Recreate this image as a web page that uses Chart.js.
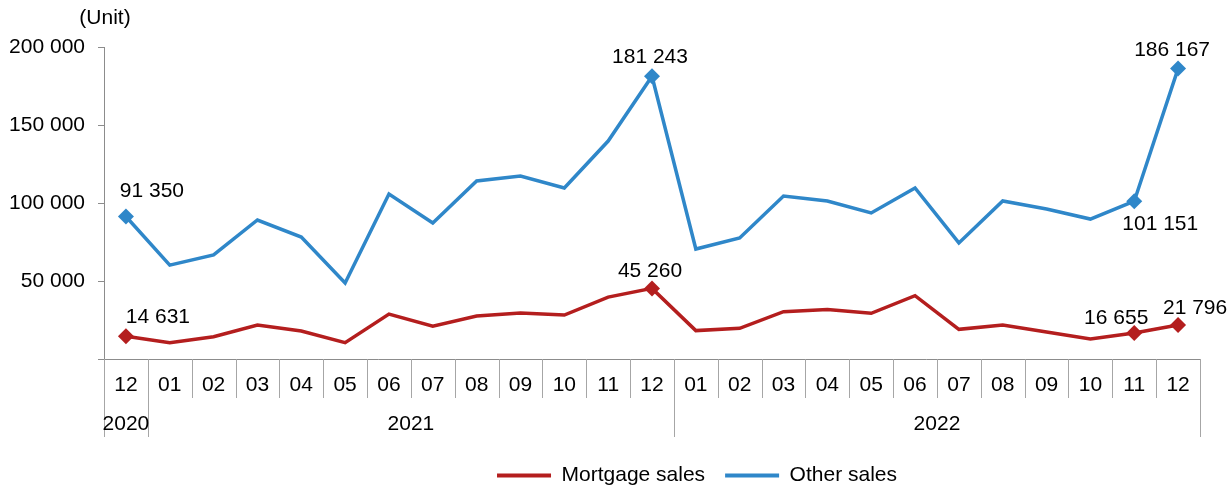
<!DOCTYPE html>
<html>
<head>
<meta charset="utf-8">
<script src="https://cdn.jsdelivr.net/npm/chart.js@4"></script>
<style>
  html, body { margin: 0; padding: 0; background: #fff; }
  .chart-container { position: relative; width: 1231px; height: 486px; }
</style>
</head>
<body>
<div class="chart-container"><canvas id="my-chart"></canvas></div>
<script>
const months = ['12', '01', '02', '03', '04', '05', '06', '07', '08', '09', '10', '11', '12',
  '01', '02', '03', '04', '05', '06', '07', '08', '09', '10', '11', '12'];
// year groups: label, first index, last index
const years = [['2020', 0, 0], ['2021', 1, 12], ['2022', 13, 24]];

const mortgage = [14631, 10500, 14300, 21800, 17900, 10500, 28800, 21100, 27600, 29500, 28200, 39700, 45260,
  18200, 19700, 30300, 31800, 29300, 40600, 19000, 21800, 17300, 12800, 16655, 21796];
const other = [91350, 60200, 66700, 89100, 78200, 48700, 105800, 87200, 114100, 117300, 109600, 139700, 181243,
  70500, 77600, 104500, 101300, 93600, 109600, 74400, 101300, 96200, 89700, 101151, 186167];

const markedPoints = [0, 12, 23, 24];
// label offsets [index, dx, dy] per series
const mortgageLabels = [[0, 32, -19], [12, -2, -17], [23, -18, -15], [24, 17, -17]];
const otherLabels = [[0, 26, -25], [12, -2, -19], [23, 26, 23], [24, -6, -18]];

const redColor = '#B41E1E';
const blueColor = '#2F87C9';
const axisColor = '#8C8C8C';
const FONT = '"Liberation Sans", Arial, sans-serif';
const FONT_SIZE = 21;
const PLOT_BOTTOM = 359;

const fmt = v => String(v).replace(/\B(?=(\d{3})+(?!\d))/g, ' ');
const radii = arr => arr.map((_, i) => markedPoints.includes(i) ? 8 : 0);

// move the legend to where the original sits (right of centre, lower)
const legendShift = {
  id: 'legendShift',
  afterLayout(chart) {
    const lg = chart.legend;
    const dx = 97, dy = 10;
    lg.left += dx; lg.right += dx;
    lg.top += dy; lg.bottom += dy;
  }
};

const extras = {
  id: 'extras',
  afterDraw(chart) {
    const ctx = chart.ctx;
    const x = chart.scales.x;
    const y = chart.scales.y;
    const w = x.width / months.length;
    const base = y.bottom;
    ctx.save();
    // category separators
    ctx.strokeStyle = '#A6A6A6';
    ctx.lineWidth = 1;
    const yearEdges = [0];
    years.forEach(yr => yearEdges.push(yr[2] + 1));
    for (let k = 0; k <= months.length; k++) {
      const px = Math.round(x.left + k * w) + 0.5;
      const len = yearEdges.includes(k) ? 78 : 39;
      ctx.beginPath();
      ctx.moveTo(px, base);
      ctx.lineTo(px, base + len);
      ctx.stroke();
    }
    ctx.fillStyle = '#000';
    ctx.font = FONT_SIZE + 'px ' + FONT;
    ctx.textAlign = 'center';
    ctx.textBaseline = 'middle';
    months.forEach((m, i) => ctx.fillText(m, x.getPixelForValue(i), base + 26));
    years.forEach(yr => {
      const cx = (x.left + yr[1] * w + x.left + (yr[2] + 1) * w) / 2;
      ctx.fillText(yr[0], cx, base + 65);
    });
    // unit label
    ctx.fillText('(Unit)', 105, 18);
    // data labels
    const drawLabels = (dsIndex, list, data) => {
      const meta = chart.getDatasetMeta(dsIndex);
      list.forEach(([i, dx, dy]) => {
        const pt = meta.data[i];
        ctx.fillText(fmt(data[i]), pt.x + dx, pt.y + dy);
      });
    };
    drawLabels(0, mortgageLabels, mortgage);
    drawLabels(1, otherLabels, other);
    ctx.restore();
  }
};

const seriesColors = [redColor, blueColor];

const canvas = document.getElementById('my-chart');
const chart = new Chart(canvas.getContext('2d'), {
  type: 'line',
  data: {
    labels: months,
    datasets: [{
      label: 'Mortgage sales',
      data: mortgage,
      borderColor: redColor,
      backgroundColor: redColor,
      borderWidth: 3.5,
      pointStyle: 'rectRot',
      pointRadius: radii(mortgage),
      pointBorderWidth: 0,
      tension: 0
    }, {
      label: 'Other sales',
      data: other,
      borderColor: blueColor,
      backgroundColor: blueColor,
      borderWidth: 3.5,
      pointStyle: 'rectRot',
      pointRadius: radii(other),
      pointBorderWidth: 0,
      tension: 0
    }]
  },
  options: {
    responsive: true,
    maintainAspectRatio: false,
    animation: false,
    layout: { padding: { top: 47, right: 31, left: 0, bottom: 0 } },
    plugins: {
      tooltip: { enabled: false },
      legend: {
        position: 'bottom',
        labels: {
          usePointStyle: true,
          pointStyle: 'line',
          pointStyleWidth: 54,
          boxHeight: 4,
          padding: 20,
          color: '#000',
          font: { family: FONT, size: FONT_SIZE },
          generateLabels: c => Chart.defaults.plugins.legend.labels.generateLabels(c).map(item => ({
            ...item,
            lineWidth: 4,
            strokeStyle: seriesColors[item.datasetIndex],
            pointStyle: 'line'
          }))
        }
      }
    },
    scales: {
      x: {
        offset: true,
        ticks: { display: false },
        grid: { display: false },
        border: { display: true, color: axisColor, width: 1 },
        afterFit: s => {
          const lh = (s.chart.legend && s.chart.legend.height) || 51;
          s.height = s.chart.height - PLOT_BOTTOM - lh;
        }
      },
      y: {
        min: 0,
        max: 200000,
        afterFit: s => { s.width = 104; },
        ticks: {
          stepSize: 50000,
          padding: 13,
          color: '#000',
          font: { family: FONT, size: FONT_SIZE },
          callback: v => v === 0 ? '' : fmt(v)
        },
        grid: { drawOnChartArea: false, drawTicks: true, tickLength: 6, color: axisColor },
        border: { display: true, color: axisColor, width: 1 }
      }
    }
  },
  plugins: [extras, legendShift]
});
</script>
</body>
</html>
